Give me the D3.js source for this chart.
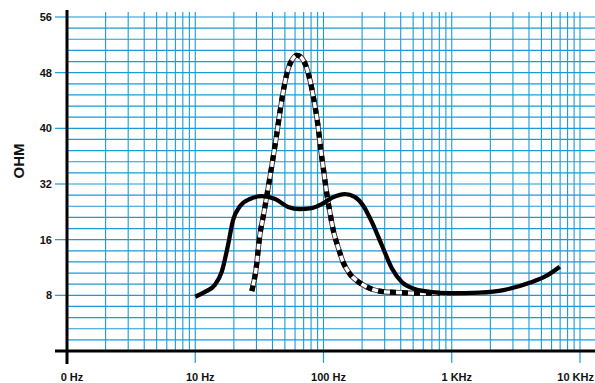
<!DOCTYPE html>
<html>
<head>
<meta charset="utf-8">
<script src="https://cdn.jsdelivr.net/npm/d3@7"></script>
<style>
  html, body { margin: 0; padding: 0; background: #fff; }
  svg { display: block; }
  text { font-family: "Liberation Sans", Arial, sans-serif; font-weight: bold; fill: #111; }
</style>
</head>
<body>
<div id="chart"></div>
<script>
// impedance curves
const freqSolid = [10, 11.9, 14.2, 16.1, 18, 19.7, 22.3, 26.7, 33, 42, 53, 65, 81, 97, 116, 147, 175, 203, 238, 285, 341, 408, 515, 674, 965, 1650, 2590, 4050, 5600, 6950];
const ohmSolid  = [7.8, 8.5, 9.5, 11.4, 15.2, 21.6, 25.6, 27.7, 28.5, 27.7, 25.4, 24.8, 25.1, 26.2, 28, 29.1, 28.3, 25.9, 21.1, 15.2, 11.9, 9.9, 8.9, 8.5, 8.3, 8.4, 8.8, 9.8, 10.9, 12.1];

const freqDashed = [27.6, 29.7, 31.9, 34.3, 36.8, 39.6, 42.5, 45.7, 49.1, 52.7, 56.7, 62, 67.8, 72.8, 78.3, 84.1, 90.4, 95.3, 100.6, 106, 112, 120, 129, 142, 160, 192, 238, 301, 394, 515, 807];
const ohmDashed  = [8.6, 11.6, 17.3, 23.7, 30.3, 34.7, 38.3, 42.3, 45.8, 48.4, 49.8, 50.5, 50.1, 49.0, 47.0, 44.1, 40.5, 36.9, 33.7, 29.3, 24.0, 18.2, 15.1, 12.8, 11.1, 9.8, 8.9, 8.5, 8.4, 8.3, 8.3];

const yTickValues = [0, 8, 16, 32, 40, 48, 56];
const yTickLabels = ["", "8", "16", "32", "40", "48", "56"];
const xTickValues = [1, 10, 100, 1000, 10000];
const xTickLabels = ["0 Hz", "10 Hz", "100 Hz", "1 KHz", "10 KHz"];

const width = 595;
const height = 383;
const plotLeft = 67, plotBottom = 351, plotTop = 17, gridTop = 12;
const blue = "#1b9ad6";

const svg = d3.select("#chart").append("svg")
    .attr("width", width)
    .attr("height", height);

const x = d3.scaleLog().domain([1, 10000]).range([plotLeft, 580]);
// labels are evenly spaced on the paper, so map them piecewise
const step = (plotBottom - plotTop) / (yTickValues.length - 1);
const y = d3.scaleLinear()
    .domain(yTickValues)
    .range(yTickValues.map((d, i) => plotBottom - i * step));

// grid
const grid = svg.append("g").attr("stroke", blue);

const hLines = d3.range(1, (yTickValues.length - 1) * 5 + 1).map(i => plotBottom - i * step / 5);
grid.selectAll("line.h")
    .data(hLines)
    .join("line")
    .attr("class", "h")
    .attr("x1", plotLeft).attr("x2", width)
    .attr("y1", d => d).attr("y2", d => d)
    .attr("stroke-width", 1.2);

const vFreqs = [];
for (let k = 0; k < 4; k++) {
    for (let m = 2; m <= 10; m++) vFreqs.push(m * Math.pow(10, k));
}
grid.selectAll("line.v")
    .data(vFreqs)
    .join("line")
    .attr("class", "v")
    .attr("x1", d => x(d)).attr("x2", d => x(d))
    .attr("y1", gridTop).attr("y2", plotBottom)
    .attr("stroke-width", 1.1);

// ticks outside the plot
grid.selectAll("line.yt")
    .data(yTickValues.slice(1))
    .join("line")
    .attr("class", "yt")
    .attr("x1", 55).attr("x2", plotLeft)
    .attr("y1", d => y(d)).attr("y2", d => y(d))
    .attr("stroke-width", 1.2);

grid.selectAll("line.xt")
    .data(xTickValues.slice(1))
    .join("line")
    .attr("class", "xt")
    .attr("x1", d => x(d)).attr("x2", d => x(d))
    .attr("y1", plotBottom).attr("y2", 363)
    .attr("stroke-width", 1.2);

// curves
const line = d3.line()
    .x(d => x(d[0]))
    .y(d => y(d[1]))
    .curve(d3.curveMonotoneX);

const dashedData = d3.zip(freqDashed, ohmDashed);
const solidData = d3.zip(freqSolid, ohmSolid);

svg.append("path")
    .attr("d", line(dashedData))
    .attr("fill", "none")
    .attr("stroke", "#333")
    .attr("stroke-width", 5.2);
svg.append("path")
    .attr("d", line(dashedData))
    .attr("fill", "none")
    .attr("stroke", "#fff")
    .attr("stroke-width", 3.4);
svg.append("path")
    .attr("d", line(dashedData))
    .attr("fill", "none")
    .attr("stroke", "#000")
    .attr("stroke-width", 5.2)
    .attr("stroke-dasharray", "6 6");

svg.append("path")
    .attr("d", line(solidData))
    .attr("fill", "none")
    .attr("stroke", "#000")
    .attr("stroke-width", 4.3)
    .attr("stroke-linecap", "butt");

// axes
svg.append("line")
    .attr("x1", 55).attr("x2", width)
    .attr("y1", plotBottom).attr("y2", plotBottom)
    .attr("stroke", "#000").attr("stroke-width", 3);
svg.append("line")
    .attr("x1", plotLeft).attr("x2", plotLeft)
    .attr("y1", 10).attr("y2", 364)
    .attr("stroke", "#000").attr("stroke-width", 3);

// labels
svg.selectAll("text.yl")
    .data(yTickValues.slice(1))
    .join("text")
    .attr("class", "yl")
    .attr("x", 52)
    .attr("y", d => y(d) + 4)
    .attr("text-anchor", "end")
    .attr("font-size", 11)
    .text((d, i) => yTickLabels[i + 1]);

svg.selectAll("text.xl")
    .data(xTickValues)
    .join("text")
    .attr("class", "xl")
    .attr("y", 381)
    .attr("text-anchor", "middle")
    .attr("font-size", 11)
    .text((d, i) => xTickLabels[i])
    .attr("x", function (d) {
        // keep the last label inside the page
        const half = this.getComputedTextLength() / 2;
        return Math.min(x(d) + 5, width - half - 1);
    });

svg.append("text")
    .attr("transform", "translate(24,161) rotate(-90)")
    .attr("text-anchor", "middle")
    .attr("font-size", 15)
    .text("OHM");
</script>
</body>
</html>
